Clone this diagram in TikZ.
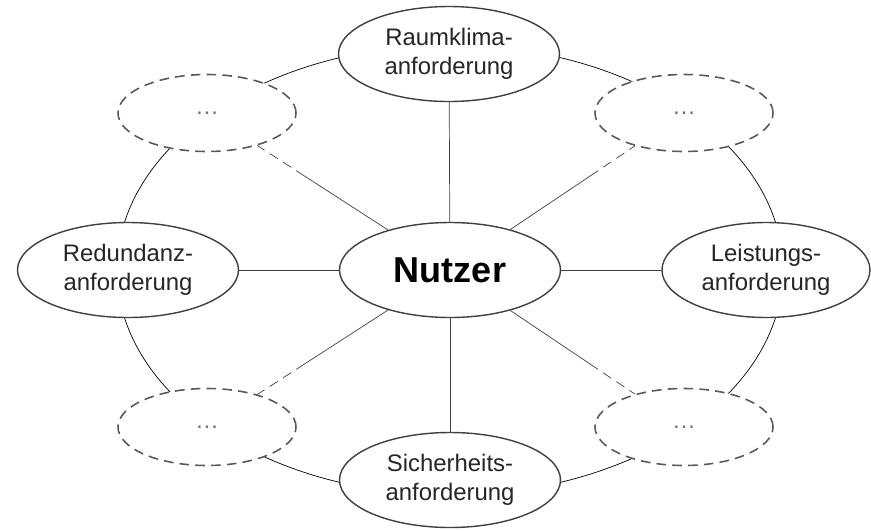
\documentclass[tikz,border=0pt]{standalone}
\usepackage{fontspec}
\setmainfont{Liberation Sans}
\usetikzlibrary{shapes.geometric,backgrounds}

\begin{document}
\begin{tikzpicture}[x=0.2mm,y=-0.2mm,
every node/.style={ellipse, draw=black!75, fill=white, line width=0.8pt,
    inner sep=0pt, align=center, text=black!85,
    font=\fontsize{13.6}{16.8}\selectfont
    },
req/.style={minimum width=4.42cm, minimum height=1.9cm},
open/.style={minimum width=3.56cm, minimum height=1.54cm, draw=black!65, line width=0.9pt,
    dash pattern=on 5.5pt off 3.5pt, text=black!55},
openline/.style={dash pattern=on 5.5pt off 3.5pt}
]
\useasboundingbox (0,0) rectangle (871,530);

\node[req] (nutzer) at (450,270) {\fontsize{20.5}{24}\selectfont\bfseries\color{black}Nutzer};
\node[req] (top) at (449,54) {Raumklima-\\anforderung};
\node[req, minimum width=4.16cm] (right) at (766,270) {Leistungs-\\anforderung};
\node[req] (bottom) at (450,480) {Sicherheits-\\anforderung};
\node[req] (left) at (128,270) {Redundanz-\\anforderung};
\node[open] (tl) at (207,113) {\dots};
\node[open] (tr) at (684,113) {\dots};
\node[open] (bl) at (207,427) {\dots};
\node[open] (br) at (684,427) {\dots};

\begin{scope}[draw=black!75, line width=0.8pt]
\begin{pgfonlayer}{background}
\draw (nutzer.center) ellipse [x radius=6.66cm, y radius=4.5cm];
\end{pgfonlayer}

\foreach \n in {top,right,bottom,left}
    \draw (nutzer) -- (\n);

\foreach \n in {tl,tr,bl,br}{
    \path (nutzer) -- coordinate[pos=0.64] (m-\n) (\n);
    \draw (nutzer) -- (m-\n);
    \draw [openline] (m-\n) -- (\n);
}
\end{scope}
\end{tikzpicture}
\end{document}
